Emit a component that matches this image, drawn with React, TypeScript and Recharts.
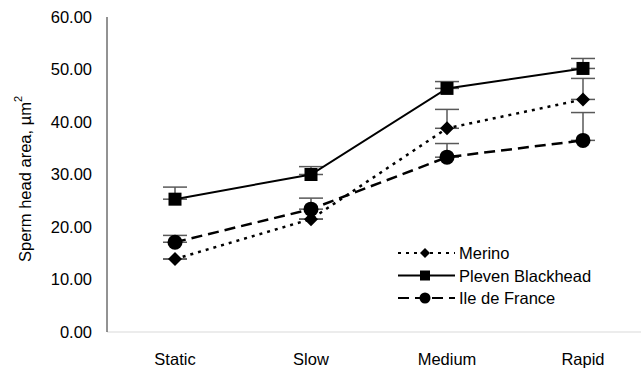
import { ErrorBar, Line, LineChart, XAxis, YAxis } from "recharts";

const categories = ["Static", "Slow", "Medium", "Rapid"];
const merino = [13.9, 21.5, 38.8, 44.3];
const merinoErr = [0, 0, 3.6, 4.0];
const pleven = [25.3, 30.0, 46.4, 50.2];
const plevenErr = [2.3, 1.5, 1.3, 1.9];
const ileDeFrance = [17.1, 23.4, 33.3, 36.5];
const ileDeFranceErr = [1.3, 2.1, 2.6, 5.3];
const yTicks = [0, 10, 20, 30, 40, 50, 60];

const FONT = "'Liberation Sans', Arial, sans-serif";

const data = categories.map((name, i) => ({
  name,
  merino: merino[i],
  merinoErr: [0, merinoErr[i]],
  pleven: pleven[i],
  plevenErr: [0, plevenErr[i]],
  ile: ileDeFrance[i],
  ileErr: [0, ileDeFranceErr[i]],
}));

const Diamond = ({ cx, cy, half = 7 }: any) => (
  <path d={`M${cx},${cy - half} L${cx + half},${cy} L${cx},${cy + half} L${cx - half},${cy} Z`} fill="#000" />
);
const Square = ({ cx, cy, half = 6.5 }: any) => (
  <rect x={cx - half} y={cy - half} width={half * 2} height={half * 2} fill="#000" />
);
const Circle = ({ cx, cy, rad = 7.5 }: any) => <circle cx={cx} cy={cy} r={rad} fill="#000" />;

const legendItems = [
  { label: "Merino", dash: "3 5", marker: "diamond" },
  { label: "Pleven Blackhead", dash: undefined, marker: "square" },
  { label: "Ile de France", dash: "11 6", marker: "circle" },
];

const LegendBox = () => (
  <svg width={240} height={70} style={{ position: "absolute", left: 395, top: 241 }}>
    {legendItems.map((it, i) => {
      const y = 12 + i * 22.5;
      return (
        <g key={it.label}>
          <line x1={3} x2={60} y1={y} y2={y} stroke="#000" strokeWidth={2} strokeDasharray={it.dash} />
          {it.marker === "diamond" && <Diamond cx={30} cy={y} half={5} />}
          {it.marker === "square" && <Square cx={30} cy={y} half={5} />}
          {it.marker === "circle" && <Circle cx={30} cy={y} rad={5.5} />}
          <text x={64} y={y} dominantBaseline="central" fontSize={16.5} fontFamily={FONT} fill="#000">
            {it.label}
          </text>
        </g>
      );
    })}
  </svg>
);

const YLabel = () => (
  <text
    x={25}
    y={179}
    transform="rotate(-90, 25, 179)"
    textAnchor="middle"
    dominantBaseline="central"
    fontSize={16.5}
    fontFamily={FONT}
    fill="#000"
  >
    Sperm head area, µm
    <tspan dy={-7} fontSize={11}>
      2
    </tspan>
  </text>
);

export default function App() {
  return (
    <div style={{ position: "relative", width: 641, height: 370, background: "#fff" }}>
      <style>{`body{margin:0}`}</style>
      <LineChart width={641} height={370} data={data} margin={{ top: 17, right: 0, bottom: 0, left: 0 }}>
        <XAxis
          dataKey="name"
          padding={{ left: 68, right: 58 }}
          height={38}
          tickLine={false}
          tickSize={0}
          tickMargin={21}
          stroke="#d9d9d9"
          tick={{ fill: "#000", fontSize: 16.5, fontFamily: FONT }}
        />
        <YAxis
          width={107}
          domain={[0, 60]}
          ticks={yTicks}
          tickFormatter={(v: number) => v.toFixed(2)}
          tickLine={false}
          tickSize={0}
          tickMargin={15}
          stroke="#262626"
          tick={{ fill: "#000", fontSize: 16.5, fontFamily: FONT }}
          label={<YLabel />}
        />
        <Line
          dataKey="merino"
          stroke="#000"
          strokeWidth={2.5}
          strokeDasharray="3 5"
          dot={<Diamond />}
          isAnimationActive={false}
        >
          <ErrorBar dataKey="merinoErr" direction="y" width={12} stroke="#595959" strokeWidth={1.5} />
        </Line>
        <Line
          dataKey="pleven"
          stroke="#000"
          strokeWidth={2}
          dot={<Square />}
          isAnimationActive={false}
        >
          <ErrorBar dataKey="plevenErr" direction="y" width={12} stroke="#595959" strokeWidth={1.5} />
        </Line>
        <Line
          dataKey="ile"
          stroke="#000"
          strokeWidth={2.5}
          strokeDasharray="11 6"
          dot={<Circle />}
          isAnimationActive={false}
        >
          <ErrorBar dataKey="ileErr" direction="y" width={12} stroke="#595959" strokeWidth={1.5} />
        </Line>
      </LineChart>
      <LegendBox />
    </div>
  );
}
